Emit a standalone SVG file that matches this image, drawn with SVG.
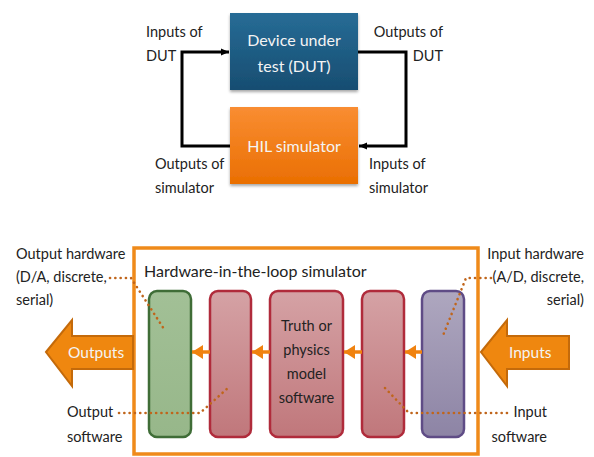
<svg xmlns="http://www.w3.org/2000/svg" width="594" height="457" viewBox="0 0 594 457">
<defs>
<linearGradient id="gDut" x1="0" y1="0" x2="0" y2="1"><stop offset="0" stop-color="#276c96"/><stop offset="1" stop-color="#174d71"/></linearGradient>
<linearGradient id="gHil" x1="0" y1="0" x2="0" y2="1"><stop offset="0" stop-color="#f98d32"/><stop offset="1" stop-color="#ea6f02"/></linearGradient>
<linearGradient id="gGreen" x1="0" y1="0" x2="0" y2="1"><stop offset="0" stop-color="#a2c096"/><stop offset="1" stop-color="#97b78a"/></linearGradient>
<linearGradient id="gPink" x1="0" y1="0" x2="0" y2="1"><stop offset="0" stop-color="#d5a2a5"/><stop offset="1" stop-color="#c0777b"/></linearGradient>
<linearGradient id="gPurple" x1="0" y1="0" x2="0" y2="1"><stop offset="0" stop-color="#aea7bf"/><stop offset="1" stop-color="#8d84a5"/></linearGradient>
<filter id="sh" x="-10%" y="-10%" width="120%" height="130%"><feGaussianBlur in="SourceAlpha" stdDeviation="1.5"/><feOffset dx="0" dy="2"/><feComponentTransfer><feFuncA type="linear" slope="0.35"/></feComponentTransfer><feMerge><feMergeNode/><feMergeNode in="SourceGraphic"/></feMerge></filter>
<marker id="ah" markerWidth="10" markerHeight="10" refX="8" refY="5" orient="auto" markerUnits="userSpaceOnUse"><path d="M0,1.5 L8,5 L0,8.5 Z" fill="#000"/></marker>
<marker id="oh" markerWidth="12" markerHeight="14" refX="11" refY="7" orient="auto" markerUnits="userSpaceOnUse"><path d="M0,0 L11,7 L0,14 Z" fill="#f0820f"/></marker>
<style>
text{font-family:Lato,"Open Sans","Liberation Sans",sans-serif;}
.lbl{font-size:14.5px;fill:#222;}
.ttl{font-size:16px;fill:#222;}
.wt{font-size:16px;fill:#f4f4f4;}
.loop{fill:none;stroke:#000;stroke-width:3;}
.oa{fill:none;stroke:#f0820f;stroke-width:3.5;}
.dot{fill:none;stroke:#c0651b;stroke-width:2.6;stroke-dasharray:0.1 5.2;stroke-linecap:round;}
.big{fill:#ef870f;stroke:#c46a0a;stroke-width:2;}
</style>
</defs>

<g id="dut">
<rect x="230" y="13" width="128" height="77" fill="url(#gDut)" filter="url(#sh)"/>
<text class="wt" x="294" y="46" text-anchor="middle">Device under</text>
<text class="wt" x="294" y="72" text-anchor="middle">test (DUT)</text>
</g>

<g id="hil">
<rect x="230" y="107" width="128" height="77" fill="url(#gHil)" filter="url(#sh)"/>
<text class="wt" x="294" y="152" text-anchor="middle">HIL simulator</text>
</g>

<g id="labels-top">
<text class="lbl" x="146" y="37">Inputs of</text>
<text class="lbl" x="146" y="61">DUT</text>
<text class="lbl" x="443" y="37" text-anchor="end">Outputs of</text>
<text class="lbl" x="443" y="61" text-anchor="end">DUT</text>
<text class="lbl" x="155" y="169">Outputs of</text>
<text class="lbl" x="155" y="193">simulator</text>
<text class="lbl" x="369" y="169">Inputs of</text>
<text class="lbl" x="369" y="193">simulator</text>
</g>

<g id="frame">
<rect x="134" y="248" width="344" height="206" fill="#fff" stroke="#ef8a1a" stroke-width="3.5"/>
<text class="ttl" x="144" y="277">Hardware-in-the-loop simulator</text>
</g>

<g id="outputs-arrow">
<path class="big" d="M46,352 L72,320 L72,336 L133,336 L133,369 L72,369 L72,386 Z"/>
<text class="wt" x="68" y="358" style="font-size:15.5px">Outputs</text>
</g>

<g id="inputs-arrow">
<path class="big" d="M481,352 L507,320 L507,336 L569,336 L569,369 L507,369 L507,386 Z"/>
<text class="wt" x="509" y="358" style="font-size:15.5px">Inputs</text>
</g>

<g id="output-hardware">
<rect x="149" y="291" width="42" height="146" rx="8" fill="url(#gGreen)" stroke="#3f6d37" stroke-width="2.5"/>
</g>
<g id="output-software">
<rect x="210" y="291" width="41" height="146" rx="8" fill="url(#gPink)" stroke="#b02b3b" stroke-width="2.5"/>
</g>
<g id="truth-model">
<rect x="270" y="291" width="73" height="146" rx="8" fill="url(#gPink)" stroke="#b02b3b" stroke-width="2.5"/>
<text class="lbl" x="306.5" y="331" text-anchor="middle">Truth or</text>
<text class="lbl" x="306.5" y="355" text-anchor="middle">physics</text>
<text class="lbl" x="306.5" y="379" text-anchor="middle">model</text>
<text class="lbl" x="306.5" y="403" text-anchor="middle">software</text>
</g>
<g id="input-software">
<rect x="362" y="291" width="42" height="146" rx="8" fill="url(#gPink)" stroke="#b02b3b" stroke-width="2.5"/>
</g>
<g id="input-hardware">
<rect x="422" y="291" width="42" height="146" rx="8" fill="url(#gPurple)" stroke="#5f4c86" stroke-width="2.5"/>
</g>

<g id="labels-bottom">
<text class="lbl" x="16" y="259">Output hardware</text>
<text class="lbl" x="16" y="282">(D/A, discrete,</text>
<text class="lbl" x="16" y="305">serial)</text>
<text class="lbl" x="584" y="259" text-anchor="end">Input hardware</text>
<text class="lbl" x="584" y="282" text-anchor="end">(A/D, discrete,</text>
<text class="lbl" x="584" y="305" text-anchor="end">serial)</text>
<text class="lbl" x="67" y="417">Output</text>
<text class="lbl" x="67" y="442">software</text>
<text class="lbl" x="547" y="417" text-anchor="end">Input</text>
<text class="lbl" x="547" y="442" text-anchor="end">software</text>
</g>

<g id="connectors">
<path class="loop" d="M230,146 H182 V52 H229" marker-end="url(#ah)"/>
<path class="loop" d="M358,52 H406 V146 H359" marker-end="url(#ah)"/>
<path class="oa" d="M210,352 H192" marker-end="url(#oh)"/>
<path class="oa" d="M270,352 H252" marker-end="url(#oh)"/>
<path class="oa" d="M362,352 H344" marker-end="url(#oh)"/>
<path class="oa" d="M422,352 H405" marker-end="url(#oh)"/>
<path class="dot" d="M110,278 H131 L164,329"/>
<path class="dot" d="M119,413 H200 L229,387"/>
<path class="dot" d="M491,278 H466 L442,338"/>
<path class="dot" d="M507,413 H409 L384,387"/>
</g>
</svg>
